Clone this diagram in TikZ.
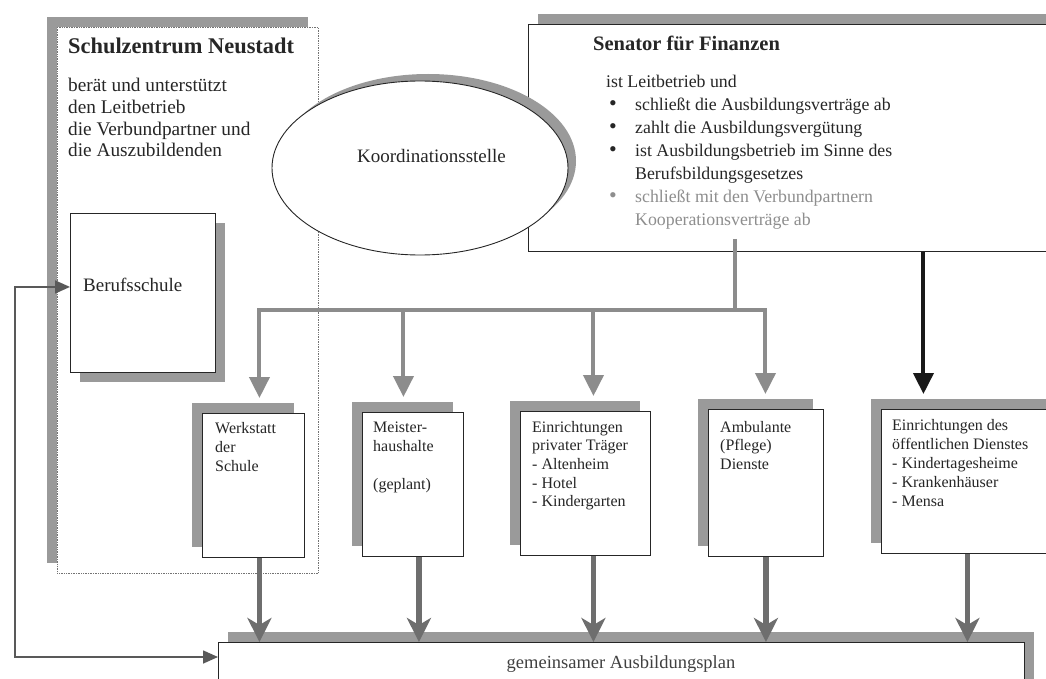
\documentclass[tikz,border=0pt]{standalone}
\usepackage{fontspec}
\setmainfont{Liberation Serif}
\usetikzlibrary{arrows.meta,shapes.geometric,shadows}
\definecolor{shadowgray}{HTML}{9A9A9A}
\definecolor{feedgray}{HTML}{8C8C8C}
\definecolor{mergegray}{HTML}{6E6E6E}
\definecolor{softgray}{HTML}{8E8E8E}
\newcommand{\senitem}[1]{\hspace*{3pt}\makebox[26pt][l]{\fontsize{22}{23}\selectfont\textbullet}#1}
\newcommand{\senmore}[1]{\hspace*{29pt}#1}
\tikzset{
  backing/.style 2 args={drop shadow={shadow xshift=#1,shadow yshift=#2,fill=shadowgray,opacity=1}},
  panel/.style={draw=black!85,line width=0.9pt,fill=white,anchor=north west,inner sep=0pt},
  txt/.style={anchor=north west,inner sep=0pt,align=left,text=black!85,font=\fontsize{16}{19}\selectfont},
  feedline/.style={draw=feedgray,line width=4pt},
  feedtip/.style={feedline,-{Triangle[length=21pt,width=20pt]},shorten >=15pt},
  leadline/.style={draw=black!90,line width=4pt,-{Triangle[length=21pt,width=20pt]},shorten >=15pt},
  mergeline/.style={draw=mergegray,line width=5.5pt,-{Stealth[length=24pt,width=24pt,inset=7pt]}},
  backline/.style={draw=black!65,line width=1.6pt,{Triangle[length=15pt,width=13pt]}-{Triangle[length=15pt,width=13pt]}}
}
\begin{document}
\begin{tikzpicture}[x=1pt,y=-1pt]
\useasboundingbox (0,0) rectangle (1046,679);
\clip (0,0) rectangle (1046,679);
% boxes
\node[panel,draw=black!55,line width=0.7pt,densely dotted,backing={-10pt}{10pt},minimum width=261pt,minimum height=546pt] (schul) at (57,27) {};
\node[panel,backing={10pt}{-10pt},minimum width=145pt,minimum height=159pt] (beruf) at (70,213) {};
\node[panel,backing={10pt}{10pt},minimum width=542pt,minimum height=227pt] (senator) at (528,24) {};
\node[ellipse,draw=black!85,line width=0.9pt,fill=white,backing={8pt}{7pt},minimum width=296pt,minimum height=174pt] (koord) at (420,168) {};
\node[panel,backing={-10pt}{10pt},minimum width=102pt,minimum height=144pt] (werk) at (202,413) {};
\node[panel,backing={-10pt}{10pt},minimum width=101pt,minimum height=144pt] (meister) at (362,412) {};
\node[panel,backing={-10pt}{10pt},minimum width=130pt,minimum height=144pt] (privat) at (520,411) {};
\node[panel,backing={-10pt}{10pt},minimum width=115pt,minimum height=147pt] (ambul) at (708,409) {};
\node[panel,backing={-10pt}{10pt},minimum width=179pt,minimum height=144pt] (oeff) at (881,409) {};
\node[panel,backing={10pt}{10pt},minimum width=806pt,minimum height=80pt] (plan) at (218,642) {};
% texts
\node[txt,font=\bfseries\fontsize{22.4}{24}\selectfont] (schultitle) at (68,37.5) {Schulzentrum Neustadt};
\node[txt,font=\fontsize{19.3}{21.8}\selectfont] (schulbody) at (68,78) {berät und unterstützt\\den Leitbetrieb\\die Verbundpartner und\\die Auszubildenden};
\node[txt,font=\fontsize{19}{22}\selectfont] (berufname) at (83,278) {Berufsschule};
\node[anchor=base,inner sep=0pt,text=black!85,font=\fontsize{19}{22}\selectfont] (koordname) at (431.5,163) {Koordinationsstelle};
\node[txt,font=\bfseries\fontsize{20.5}{24}\selectfont] (sentitle) at (593,36) {Senator für Finanzen};
\node[txt,font=\fontsize{17.8}{23}\selectfont] (senbody) at (606,75) {ist Leitbetrieb und\\
\senitem{schließt die Ausbildungsverträge ab}\\
\senitem{zahlt die Ausbildungsvergütung}\\
\senitem{ist Ausbildungsbetrieb im Sinne des}\\
\senmore{Berufsbildungsgesetzes}\\
\textcolor{softgray}{\senitem{schließt mit den Verbundpartnern}}\\
\textcolor{softgray}{\senmore{Kooperationsverträge ab}}};
\node[txt] (werktext) at (215,422) {Werkstatt\\der\\Schule};
\node[txt] (meistertext) at (373,422) {Meister-\\haushalte\\[19pt](geplant)};
\node[txt,font=\fontsize{16}{18.6}\selectfont] (privattext) at (532,421) {Einrichtungen\\privater Träger\\- Altenheim\\- Hotel\\- Kindergarten};
\node[txt,font=\fontsize{16}{18.6}\selectfont] (ambultext) at (720,421) {Ambulante\\(Pflege)\\Dienste};
\node[txt] (oefftext) at (892,419) {Einrichtungen des\\öffentlichen Dienstes\\- Kindertagesheime\\- Krankenhäuser\\- Mensa};
\node[anchor=base,inner sep=0pt,text=black!75,font=\fontsize{18.5}{22}\selectfont] (plantext) at (621,668) {gemeinsamer Ausbildungsplan};
% connectors
\coordinate (fork) at (735,310);
\path (fork |- senator.south) ++(0,-13) coordinate (trunktop);
\draw[feedline] (trunktop) -- (fork);
\draw[feedtip] (fork) -| ([xshift=6pt]werk.north);
\draw[feedtip] (fork) -| ([xshift=-9.5pt]meister.north);
\draw[feedtip] (fork) -| ([xshift=8pt]privat.north);
\draw[feedtip] (fork) -| ([xshift=-0.5pt]ambul.north);
\path ([xshift=-47.5pt]oeff.north) coordinate (oeffin);
\draw[leadline] (oeffin |- senator.south) -- (oeffin);
\foreach \n/\dx in {werk/6,meister/6,privat/8,ambul/0,oeff/-3.5}{
  \path ([xshift=\dx pt]\n.south) coordinate (\n-out);
  \draw[mergeline] (\n-out) -- (\n-out |- plan.north);
}
\coordinate (ret) at (15,470);
\path ([yshift=-15pt]plan.north west) coordinate (planin);
\path ([yshift=6pt]beruf.west) coordinate (berufin);
\draw[backline] (planin) -| (ret) |- (berufin);
\end{tikzpicture}
\end{document}
